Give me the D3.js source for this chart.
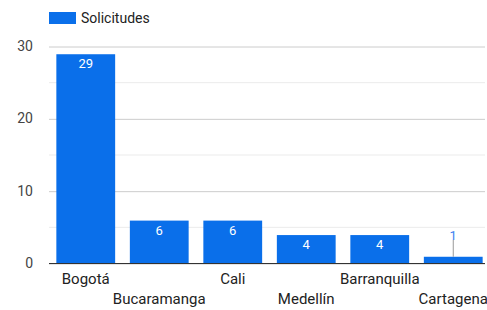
<!DOCTYPE html>
<html>
<head>
<meta charset="utf-8">
<script src="https://cdn.jsdelivr.net/npm/d3@7"></script>
<style>
  body { margin: 0; background: #fff; }
  text { font-family: Roboto, "Noto Sans", sans-serif; }
</style>
</head>
<body>
<svg id="chart" width="487" height="310"></svg>
<script>
// Chart data
const cities = ['Bogotá', 'Bucaramanga', 'Cali', 'Medellín', 'Barranquilla', 'Cartagena'];
const solicitudes = [29, 6, 6, 4, 4, 1];
const majorTicks = [0, 10, 20, 30];
const minorTicks = [5, 15, 25];
const seriesName = 'Solicitudes';

const barColor = '#0a6fea';
const svg = d3.select('#chart');

const x = d3.scaleBand()
  .domain(cities)
  .range([49, 490])
  .paddingInner(0.2)
  .paddingOuter(0.1);

const y = d3.scaleLinear()
  .domain([0, 30])
  .range([263, 46]);

const gridRight = 485;

// Minor grid lines
svg.append('g')
  .selectAll('line')
  .data(minorTicks)
  .join('line')
  .attr('x1', 49).attr('x2', gridRight)
  .attr('y1', d => y(d) + 0.5).attr('y2', d => y(d) + 0.5)
  .attr('stroke', '#ebebeb');

// Major grid lines + labels
svg.append('g')
  .attr('transform', 'translate(49,0)')
  .call(d3.axisLeft(y).tickValues(majorTicks).tickSize(-(gridRight - 49)).tickPadding(16))
  .call(g => g.select('.domain').remove())
  .call(g => g.selectAll('.tick line').attr('stroke', '#cccccc').attr('transform', 'translate(0,0.5)'))
  .call(g => g.selectAll('.tick text').attr('fill', '#444').style('font-size', '14px').attr('font-family', 'Roboto, sans-serif'));

// Bars
svg.append('g')
  .selectAll('rect')
  .data(cities)
  .join('rect')
  .attr('x', d => x(d))
  .attr('width', x.bandwidth())
  .attr('y', (d, i) => y(solicitudes[i]) + 1)
  .attr('height', (d, i) => y(0) - y(solicitudes[i]) - 1)
  .attr('fill', barColor);

// Value labels
const labels = svg.append('g');
cities.forEach((c, i) => {
  const v = solicitudes[i];
  const cx = x(c) + x.bandwidth() / 2;
  const h = y(0) - y(v);
  if (h > 20) {
    labels.append('text')
      .attr('x', cx)
      .attr('y', y(v) + 15)
      .attr('text-anchor', 'middle')
      .attr('fill', '#fff')
      .style('font-size', '13px')
      .text(v);
  } else {
    labels.append('line')
      .attr('x1', cx).attr('x2', cx)
      .attr('y1', y(v) + 1).attr('y2', y(v) - 16)
      .attr('stroke', '#999');
    labels.append('text')
      .attr('x', cx)
      .attr('y', y(v) - 16)
      .attr('text-anchor', 'middle')
      .attr('fill', '#3b82f0')
      .style('font-size', '13px')
      .text(v);
  }
});

// Baseline
svg.append('line')
  .attr('x1', 49).attr('x2', gridRight)
  .attr('y1', y(0) + 0.5).attr('y2', y(0) + 0.5)
  .attr('stroke', '#333');

// X axis labels, alternating rows
svg.append('g')
  .selectAll('text')
  .data(cities)
  .join('text')
  .attr('x', d => x(d) + x.bandwidth() / 2)
  .attr('y', (d, i) => i % 2 === 0 ? 284 : 304)
  .attr('text-anchor', 'middle')
  .attr('fill', '#222')
  .style('font-size', '15px')
  .text(d => d);

// Legend
const legend = svg.append('g');
legend.append('rect')
  .attr('x', 49).attr('y', 12)
  .attr('width', 27).attr('height', 12)
  .attr('fill', barColor);
legend.append('text')
  .attr('x', 81).attr('y', 23)
  .attr('fill', '#222')
  .style('font-size', '14px')
  .text(seriesName);
</script>
</body>
</html>
